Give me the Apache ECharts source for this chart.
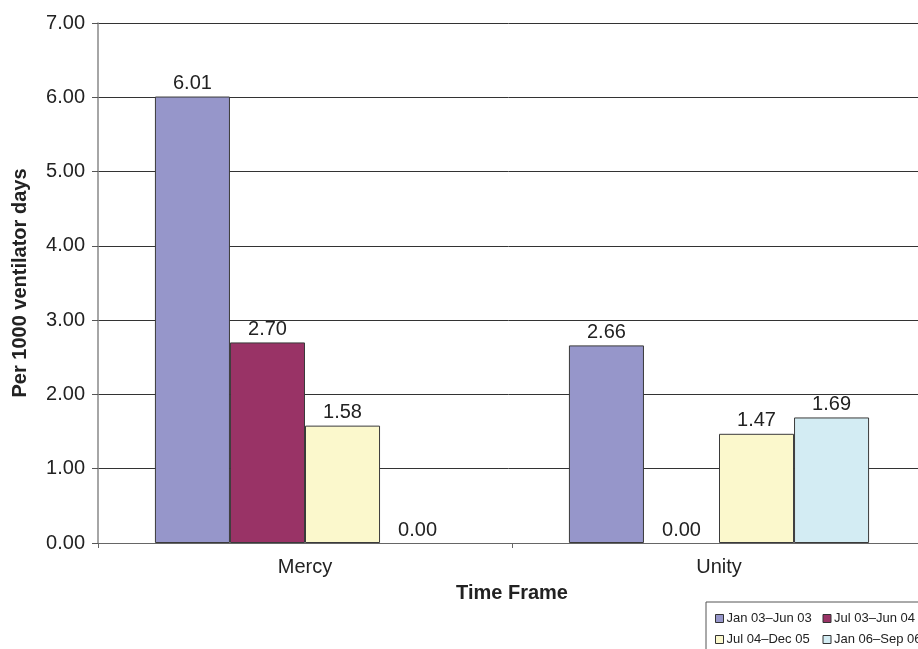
<!DOCTYPE html>
<html>
<head>
<meta charset="utf-8">
<script src="https://cdn.jsdelivr.net/npm/echarts@6/dist/echarts.min.js"></script>
<style>
html,body{margin:0;padding:0;background:#fff;}
#chart{width:918px;height:649px;}
</style>
</head>
<body>
<div id="chart"></div>
<script>
// Ventilator-associated rates by hospital and period
const hospitals = ['Mercy', 'Unity'];
const periods = ['Jan 03–Jun 03', 'Jul 03–Jun 04', 'Jul 04–Dec 05', 'Jan 06–Sep 06'];
const janJun03 = [6.01, 2.66];
const jul03Jun04 = [2.70, 0.00];
const jul04Dec05 = [1.58, 1.47];
const jan06Sep06 = [0.00, 1.69];
const yTicks = [0, 1, 2, 3, 4, 5, 6, 7];

const seriesValues = [janJun03, jul03Jun04, jul04Dec05, jan06Sep06];
const colors = ['#9696ca', '#993366', '#fbf8cc', '#d3ecf3'];
const FONT = 'Liberation Sans, Arial, sans-serif';

const chart = echarts.init(document.getElementById('chart'), null, {renderer: 'canvas'});

const series = periods.map((name, i) => ({
  name: name,
  type: 'bar',
  // zero-height bars get no outline
  data: seriesValues[i].map(v => v === 0 ? { value: v, itemStyle: { borderWidth: 0 } } : v),
  barGap: '0%',
  barCategoryGap: '27.5%',
  itemStyle: { color: colors[i], borderColor: '#3a3a3a', borderWidth: 1 },
  label: {
    show: true,
    position: 'top',
    distance: 3,
    formatter: p => p.value.toFixed(2),
    fontFamily: FONT,
    fontSize: 20,
    color: '#222'
  }
}));

chart.setOption({
  animation: false,
  backgroundColor: '#fff',
  grid: { left: 98, top: 23, width: 828, height: 520, outerBoundsMode: 'none', containLabel: false },
  xAxis: {
    type: 'category',
    data: hospitals,
    name: 'Time Frame',
    nameLocation: 'middle',
    nameGap: 40,
    nameTextStyle: { fontFamily: FONT, fontSize: 20, fontWeight: 'bold', color: '#222' },
    axisLine: { show: true, lineStyle: { color: '#666', width: 1 } },
    axisTick: { show: true, alignWithLabel: false, length: 5, lineStyle: { color: '#666' } },
    axisLabel: { fontFamily: FONT, fontSize: 20, color: '#222', margin: 14 }
  },
  yAxis: {
    type: 'value',
    min: yTicks[0],
    max: yTicks[yTicks.length - 1],
    interval: 1,
    name: 'Per 1000 ventilator days',
    nameLocation: 'middle',
    nameGap: 68,
    nameTextStyle: { fontFamily: FONT, fontSize: 20, fontWeight: 'bold', color: '#222' },
    axisLine: { show: true, lineStyle: { color: '#888', width: 1.5 } },
    axisTick: { show: true, length: 6, lineStyle: { color: '#555' } },
    axisLabel: { formatter: v => v.toFixed(2), fontFamily: FONT, fontSize: 20, color: '#222', margin: 13 },
    splitLine: { show: true, lineStyle: { color: '#333', width: 1 } }
  },
  legend: {
    left: 706,
    top: 602,
    width: 260,
    orient: 'horizontal',
    icon: 'rect',
    itemWidth: 8,
    itemHeight: 8,
    itemGap: 8,
    padding: [10, 6, 8, 9],
    borderColor: '#555',
    borderWidth: 1,
    backgroundColor: '#fff',
    itemStyle: { borderColor: '#333', borderWidth: 1 },
    textStyle: { fontFamily: FONT, fontSize: 13, lineHeight: 13, color: '#222', width: 88, overflow: 'none', padding: [0, 0, 0, -2] },
    data: periods
  },
  series: series
});
</script>
</body>
</html>
